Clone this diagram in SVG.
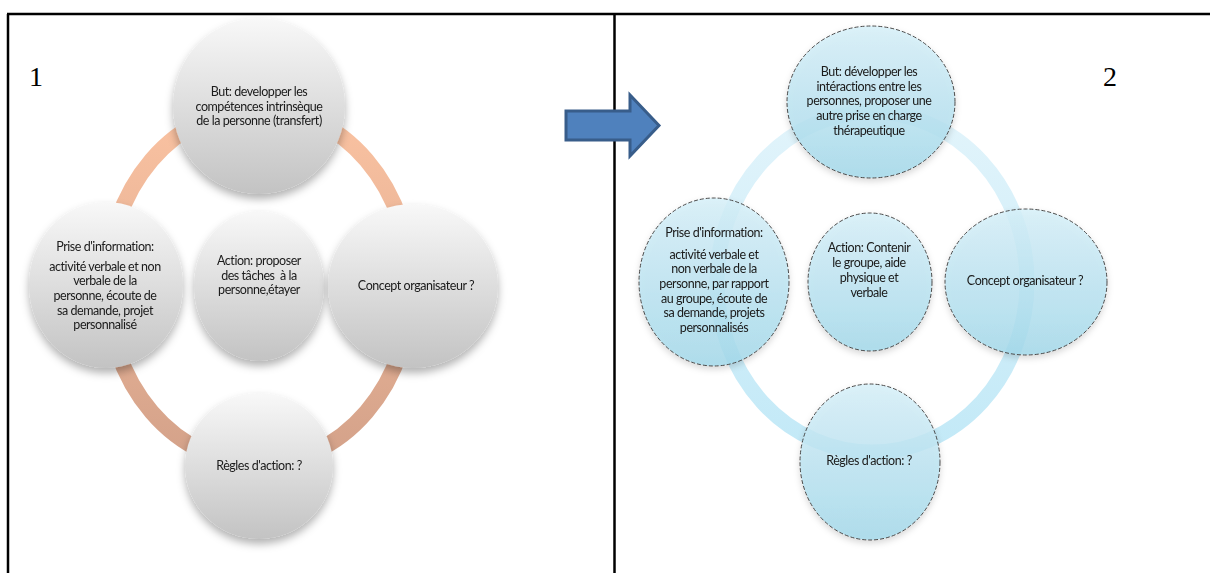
<svg xmlns="http://www.w3.org/2000/svg" width="1210" height="573" viewBox="0 0 1210 573">
<style>
.t{font-family:Lato,"Liberation Sans",sans-serif;font-size:12.5px;letter-spacing:-0.45px;fill:#1a1a1a;text-anchor:middle}
.num{font-family:"Liberation Serif",serif;font-size:28px;fill:#000}
.frame{stroke:#000;stroke-width:2.5;fill:none}
.g{fill:url(#gray)}
.b{fill:url(#blue);fill-opacity:0.82;stroke:#4a4a4a;stroke-width:1;stroke-dasharray:4 2}
</style>
<defs>
<linearGradient id="gray" x1="0" y1="0" x2="0" y2="1">
<stop offset="0" stop-color="#F8F8F8"/>
<stop offset="1" stop-color="#C3C3C3"/>
</linearGradient>
<linearGradient id="blue" x1="0" y1="0" x2="0" y2="1">
<stop offset="0" stop-color="#D6F0F9"/>
<stop offset="1" stop-color="#A2D9EB"/>
</linearGradient>
<linearGradient id="ringO" gradientUnits="userSpaceOnUse" x1="0" y1="106" x2="0" y2="466">
<stop offset="0" stop-color="#FBC3A2"/>
<stop offset="1" stop-color="#D3A189"/>
</linearGradient>
<linearGradient id="ringB" gradientUnits="userSpaceOnUse" x1="0" y1="112" x2="0" y2="452">
<stop offset="0" stop-color="#E2F4FB"/>
<stop offset="1" stop-color="#C2E9F7"/>
</linearGradient>
<filter id="sh" x="-20%" y="-20%" width="140%" height="150%">
<feDropShadow dx="0" dy="5" stdDeviation="4" flood-color="#000" flood-opacity="0.3"/>
</filter>
<filter id="sh2" x="-20%" y="-20%" width="140%" height="150%">
<feDropShadow dx="0" dy="3" stdDeviation="3" flood-color="#000" flood-opacity="0.18"/>
</filter>
</defs>

<g id="frame">
<line class="frame" x1="7" y1="14" x2="1210" y2="14"/>
<line class="frame" x1="8" y1="14" x2="8" y2="573"/>
<line class="frame" x1="614.5" y1="14" x2="614.5" y2="573"/>
</g>

<g id="connectors">
<ellipse cx="259" cy="286" rx="152" ry="178" fill="none" stroke="url(#ringO)" stroke-width="16"/>
<ellipse cx="872" cy="282" rx="155" ry="170" fill="none" stroke="url(#ringB)" stroke-width="15"/>
<path id="arrow" d="M566,111 H630 V95 L659,125.5 L630,156 V140 H566 Z" fill="#4F81BD" stroke="#385D8A" stroke-width="3" stroke-linejoin="miter"/>
</g>

<text class="num" x="29" y="86">1</text>
<text class="num" x="1103" y="86">2</text>

<g id="n1-but" filter="url(#sh)">
<ellipse class="g" cx="259" cy="106" rx="86" ry="88"/>
<text class="t" x="259" y="96">But: developper les</text>
<text class="t" x="259" y="110.5">compétences intrinsèque</text>
<text class="t" x="259" y="125">de la personne (transfert)</text>
</g>
<g id="n1-prise" filter="url(#sh)">
<ellipse class="g" cx="106" cy="285" rx="77" ry="83"/>
<text class="t" x="105" y="251">Prise d'information:</text>
<text class="t" x="105" y="271">activité verbale et non</text>
<text class="t" x="105" y="285">verbale de la</text>
<text class="t" x="105" y="300">personne, écoute de</text>
<text class="t" x="105" y="315">sa demande, projet</text>
<text class="t" x="105" y="329">personnalisé</text>
</g>
<g id="n1-action" filter="url(#sh)">
<ellipse class="g" cx="259" cy="286" rx="65" ry="75"/>
<text class="t" x="259" y="265">Action: proposer</text>
<text class="t" x="259" y="280" xml:space="preserve">des tâches  à la</text>
<text class="t" x="259" y="294">personne,étayer</text>
</g>
<g id="n1-concept" filter="url(#sh)">
<ellipse class="g" cx="413" cy="286" rx="85" ry="82"/>
<text class="t" x="416" y="290">Concept organisateur ?</text>
</g>
<g id="n1-regles" filter="url(#sh)">
<ellipse class="g" cx="259" cy="466" rx="74" ry="73"/>
<text class="t" x="259" y="470">Règles d'action: ?</text>
</g>

<g id="n2-but" filter="url(#sh2)">
<ellipse class="b" cx="871" cy="102" rx="84" ry="76"/>
<text class="t" x="869" y="76">But: développer les</text>
<text class="t" x="869" y="90.5">intéractions entre les</text>
<text class="t" x="869" y="105">personnes, proposer une</text>
<text class="t" x="869" y="120">autre prise en charge</text>
<text class="t" x="869" y="135">thérapeutique</text>
</g>
<g id="n2-prise" filter="url(#sh2)">
<ellipse class="b" cx="714" cy="282" rx="75" ry="84"/>
<text class="t" x="714" y="237">Prise d'information:</text>
<text class="t" x="714" y="259">activité verbale et</text>
<text class="t" x="714" y="273">non verbale de la</text>
<text class="t" x="714" y="288">personne, par rapport</text>
<text class="t" x="714" y="303">au groupe, écoute de</text>
<text class="t" x="714" y="317">sa demande, projets</text>
<text class="t" x="714" y="332">personnalisés</text>
</g>
<g id="n2-action" filter="url(#sh2)">
<ellipse class="b" cx="870" cy="282" rx="62" ry="69"/>
<text class="t" x="869" y="252">Action: Contenir</text>
<text class="t" x="869" y="267">le groupe, aide</text>
<text class="t" x="869" y="282">physique et</text>
<text class="t" x="869" y="297">verbale</text>
</g>
<g id="n2-concept" filter="url(#sh2)">
<ellipse class="b" cx="1026" cy="282" rx="81" ry="73"/>
<text class="t" x="1025" y="285">Concept organisateur ?</text>
</g>
<g id="n2-regles" filter="url(#sh2)">
<ellipse class="b" cx="870" cy="462" rx="70" ry="78"/>
<text class="t" x="869" y="465">Règles d'action: ?</text>
</g>
</svg>
